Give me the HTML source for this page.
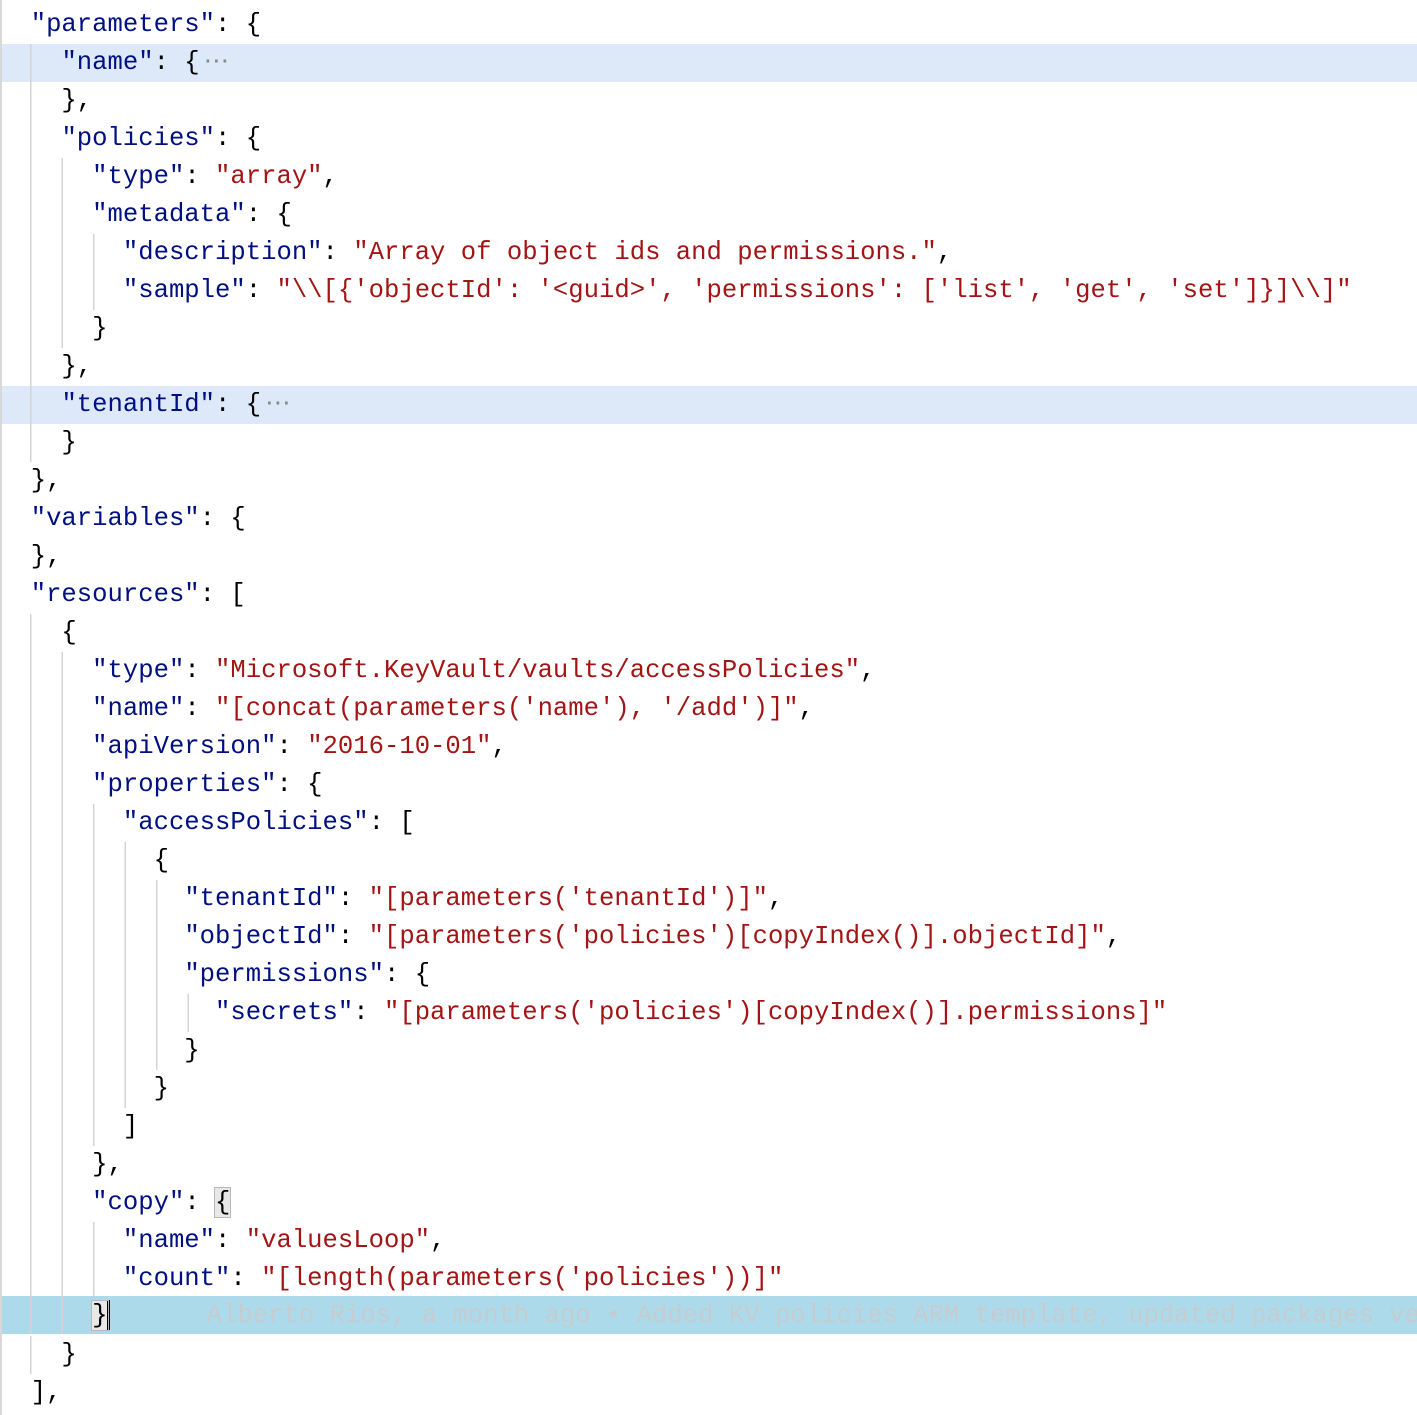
<!DOCTYPE html>
<html><head><meta charset="utf-8"><style>
body{margin:0;background:#fff;width:1417px;height:1415px;overflow:hidden;position:relative}
.edge{position:absolute;left:0;top:0;width:1.5px;height:1415px;background:#d8d8d8}
.l{position:absolute;left:0;width:1417px;height:38px;line-height:38px;font-family:"Liberation Mono",monospace;font-size:25.6px;white-space:pre;color:#000;
background-image:repeating-linear-gradient(to right,transparent 0,transparent 30px,#d4d4d4 30px,#d4d4d4 31.5px,transparent 31.5px,transparent 30.72px);background-repeat:no-repeat;background-size:var(--w) 100%}
.k{color:#001080}.s{color:#a31515}.h{background-color:#dde9f8}.c{background-color:#addaea}
.g{color:#c4ccd0;margin-left:5px}.e{color:#888;margin-left:4px}
.b{outline:1px solid #b9b9b9;background:#e8e8e8}
.cur{display:inline-block;width:3px;height:30px;background:#000;vertical-align:middle;margin-left:-1px}
</style></head><body>
<div class="l" style="top:6px;--w:15px">  <span class="k">"parameters"</span>: {</div>
<div class="l h" style="top:44px;--w:46px">    <span class="k">"name"</span>: {<span class="e">⋯</span></div>
<div class="l" style="top:82px;--w:46px">    },</div>
<div class="l" style="top:120px;--w:46px">    <span class="k">"policies"</span>: {</div>
<div class="l" style="top:158px;--w:77px">      <span class="k">"type"</span>: <span class="s">"array"</span>,</div>
<div class="l" style="top:196px;--w:77px">      <span class="k">"metadata"</span>: {</div>
<div class="l" style="top:234px;--w:108px">        <span class="k">"description"</span>: <span class="s">"Array of object ids and permissions."</span>,</div>
<div class="l" style="top:272px;--w:108px">        <span class="k">"sample"</span>: <span class="s">"\\[{'objectId': '&lt;guid&gt;', 'permissions': ['list', 'get', 'set']}]\\]"</span></div>
<div class="l" style="top:310px;--w:77px">      }</div>
<div class="l" style="top:348px;--w:46px">    },</div>
<div class="l h" style="top:386px;--w:46px">    <span class="k">"tenantId"</span>: {<span class="e">⋯</span></div>
<div class="l" style="top:424px;--w:46px">    }</div>
<div class="l" style="top:462px;--w:15px">  },</div>
<div class="l" style="top:500px;--w:15px">  <span class="k">"variables"</span>: {</div>
<div class="l" style="top:538px;--w:15px">  },</div>
<div class="l" style="top:576px;--w:15px">  <span class="k">"resources"</span>: [</div>
<div class="l" style="top:614px;--w:46px">    {</div>
<div class="l" style="top:652px;--w:77px">      <span class="k">"type"</span>: <span class="s">"Microsoft.KeyVault/vaults/accessPolicies"</span>,</div>
<div class="l" style="top:690px;--w:77px">      <span class="k">"name"</span>: <span class="s">"[concat(parameters('name'), '/add')]"</span>,</div>
<div class="l" style="top:728px;--w:77px">      <span class="k">"apiVersion"</span>: <span class="s">"2016-10-01"</span>,</div>
<div class="l" style="top:766px;--w:77px">      <span class="k">"properties"</span>: {</div>
<div class="l" style="top:804px;--w:108px">        <span class="k">"accessPolicies"</span>: [</div>
<div class="l" style="top:842px;--w:139px">          {</div>
<div class="l" style="top:880px;--w:169px">            <span class="k">"tenantId"</span>: <span class="s">"[parameters('tenantId')]"</span>,</div>
<div class="l" style="top:918px;--w:169px">            <span class="k">"objectId"</span>: <span class="s">"[parameters('policies')[copyIndex()].objectId]"</span>,</div>
<div class="l" style="top:956px;--w:169px">            <span class="k">"permissions"</span>: {</div>
<div class="l" style="top:994px;--w:200px">              <span class="k">"secrets"</span>: <span class="s">"[parameters('policies')[copyIndex()].permissions]"</span></div>
<div class="l" style="top:1032px;--w:169px">            }</div>
<div class="l" style="top:1070px;--w:139px">          }</div>
<div class="l" style="top:1108px;--w:108px">        ]</div>
<div class="l" style="top:1146px;--w:77px">      },</div>
<div class="l" style="top:1184px;--w:77px">      <span class="k">"copy"</span>: <span class="b">{</span></div>
<div class="l" style="top:1222px;--w:108px">        <span class="k">"name"</span>: <span class="s">"valuesLoop"</span>,</div>
<div class="l" style="top:1260px;--w:108px">        <span class="k">"count"</span>: <span class="s">"[length(parameters('policies'))]"</span></div>
<div class="l c" style="top:1296px;--w:77px;line-height:40px">      <span class="b">}</span><span class="cur"></span>      <span class="g">Alberto Rios, a month ago • Added KV policies ARM template, updated packages ve</span></div>
<div class="l" style="top:1336px;--w:46px">    }</div>
<div class="l" style="top:1374px;--w:15px">  ],</div>
<div class="edge"></div>
</body></html>
